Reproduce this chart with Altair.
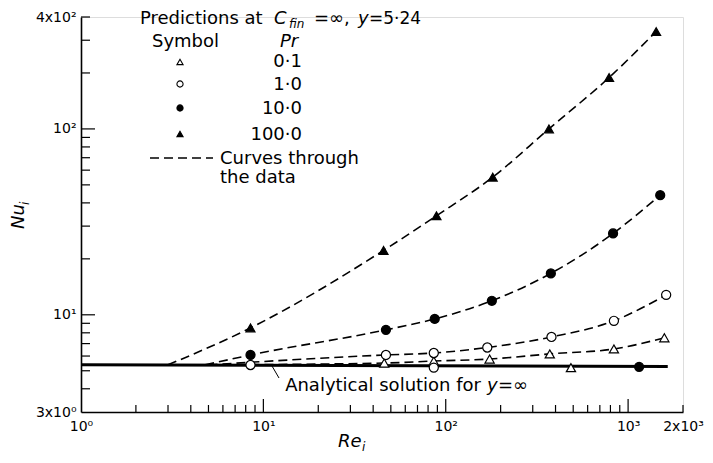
import altair as alt
import pandas as pd

# ---------------- data ----------------
series_names = ["0.1", "1.0", "10.0", "100.0"]

re_pr01 = [46, 86, 174, 372, 836, 1580]
nu_pr01 = [5.5, 5.64, 5.78, 6.16, 6.55, 7.52]

re_pr1 = [47, 86, 169, 380, 836, 1617]
nu_pr1 = [6.08, 6.23, 6.67, 7.6, 9.28, 12.8]

re_pr10 = [8.5, 47, 87, 179, 377, 827, 1500]
nu_pr10 = [6.08, 8.3, 9.5, 11.9, 16.7, 27.4, 44.0]

re_pr100 = [8.5, 45.6, 89, 181, 368, 787, 1425]
nu_pr100 = [8.5, 22.2, 34.1, 55.0, 100, 189, 334]

# where each dashed curve leaves the analytical line
curve_start_re = {"0.1": 5.0, "1.0": 5.0, "10.0": 4.8, "100.0": 3.0}

# analytical solution for y = infinity
analytic_re = [1, 1650]
analytic_nu = [5.38, 5.27]

# symbols sitting on the analytical line
online_re = [8.5, 86, 486, 1149]
online_nu = [5.37, 5.2, 5.2, 5.25]
online_series = ["1.0", "1.0", "0.1", "10.0"]

# axis ticks / labels
x_label_values = [1, 10, 100, 1000, 2000]
x_label_text = ["10⁰", "10¹", "10²", "10³", "2x10³"]
y_label_values = [3, 10, 100, 400]
y_label_text = ["3x10⁰", "10¹", "10²", "4x10²"]
x_major_ticks = [10, 100, 1000]
x_minor_ticks = [2, 3, 4, 5, 6, 7, 8, 9, 20, 30, 40, 50, 60, 70, 80, 90,
                 200, 300, 400, 500, 600, 700, 800, 900, 2000]
y_major_ticks = [10, 100]
y_minor_ticks = [4, 5, 6, 7, 8, 9, 20, 30, 40, 50, 60, 70, 80, 90, 200, 300, 400]

# ---------------- tables ----------------
pts = pd.DataFrame({
    "Re": re_pr01 + re_pr1 + re_pr10 + re_pr100,
    "Nu": nu_pr01 + nu_pr1 + nu_pr10 + nu_pr100,
    "series": ["0.1"] * len(re_pr01) + ["1.0"] * len(re_pr1)
    + ["10.0"] * len(re_pr10) + ["100.0"] * len(re_pr100),
})
online = pd.DataFrame({"Re": online_re, "Nu": online_nu, "series": online_series})

curve_rows = []
for s in series_names:
    curve_rows.append({"Re": curve_start_re[s], "Nu": analytic_nu[0], "series": s})
curves = pd.concat([pd.DataFrame(curve_rows), pts], ignore_index=True)

analytic = pd.DataFrame({"Re": analytic_re, "Nu": analytic_nu})

FONT = "DejaVu Sans"
W, H = 602, 395

x_scale = alt.Scale(type="log", domain=[1, 2000], nice=False)
y_scale = alt.Scale(type="log", domain=[3, 400], nice=False)

x_lab_expr = " : ".join(
    f"datum.value == {v} ? '{t}'" for v, t in zip(x_label_values, x_label_text)
) + " : ''"
y_lab_expr = " : ".join(
    f"datum.value == {v} ? '{t}'" for v, t in zip(y_label_values, y_label_text)
) + " : ''"

x_axis = alt.Axis(values=x_label_values, labelExpr=x_lab_expr, title="",
                  ticks=False, grid=False, domainColor="black", domainWidth=1.6,
                  labelColor="black", labelFont=FONT, labelFontSize=14,
                  labelPadding=7, labelFlush=False, labelOverlap=False)
y_axis = alt.Axis(values=y_label_values, labelExpr=y_lab_expr, title="",
                  ticks=False, grid=False, domainColor="black", domainWidth=1.6,
                  labelColor="black", labelFont=FONT, labelFontSize=14,
                  labelPadding=5, labelFlush=False, labelOverlap=False)

X = alt.X("Re:Q", scale=x_scale, axis=x_axis)
Y = alt.Y("Nu:Q", scale=y_scale, axis=y_axis)

shape_scale = alt.Scale(domain=series_names,
                        range=["triangle-up", "circle", "circle", "triangle-up"])
fill_scale = alt.Scale(domain=series_names,
                       range=["white", "white", "black", "black"])
size_scale = alt.Scale(domain=series_names, range=[85, 80, 80, 85])

# ---------------- layers ----------------
analytic_line = alt.Chart(analytic).mark_line(color="black", strokeWidth=3).encode(x=X, y=Y)

dashed = alt.Chart(curves).mark_line(
    color="black", strokeWidth=1.6, strokeDash=[9, 5], interpolate="monotone"
).encode(x=X, y=Y, detail="series:N", order="Re:Q")


def point_layer(df):
    return alt.Chart(df).mark_point(
        filled=True, stroke="black", strokeWidth=1.2, opacity=1
    ).encode(
        x=X, y=Y,
        shape=alt.Shape("series:N", scale=shape_scale, legend=None),
        fill=alt.Fill("series:N", scale=fill_scale, legend=None),
        size=alt.Size("series:N", scale=size_scale, legend=None),
    )


points = point_layer(pts)
online_pts = point_layer(online)

xt_major = alt.Chart(pd.DataFrame({"Re": x_major_ticks})).mark_rule(
    color="black", strokeWidth=1.2).encode(x=X, y=alt.value(H), y2=alt.value(H - 13))
xt_minor = alt.Chart(pd.DataFrame({"Re": x_minor_ticks})).mark_rule(
    color="black", strokeWidth=1.2).encode(x=X, y=alt.value(H), y2=alt.value(H - 7))
yt_major = alt.Chart(pd.DataFrame({"Nu": y_major_ticks})).mark_rule(
    color="black", strokeWidth=1.2).encode(y=Y, x=alt.value(0), x2=alt.value(14))
yt_minor = alt.Chart(pd.DataFrame({"Nu": y_minor_ticks})).mark_rule(
    color="black", strokeWidth=1.2).encode(y=Y, x=alt.value(0), x2=alt.value(9))


def txt(t, x, y, size=18, style="normal", align="left", angle=0):
    return alt.Chart(pd.DataFrame({"t": [t]})).mark_text(
        font=FONT, fontSize=size, fontStyle=style, align=align,
        baseline="alphabetic", color="black", angle=angle
    ).encode(x=alt.value(x), y=alt.value(y), text="t:N")


def sym(shape, fill, x, y):
    return alt.Chart(pd.DataFrame({"t": [0]})).mark_point(
        shape=shape, filled=True, fill=fill, stroke="black", strokeWidth=1.1,
        size=38, opacity=1
    ).encode(x=alt.value(x), y=alt.value(y))


legend_layers = [
    txt("Predictions at", 59, 7),
    txt("C", 193, 7, style="italic"),
    txt("fin", 208, 11, size=12, style="italic"),
    txt("=∞,", 233, 7),
    txt("y", 277, 7, style="italic"),
    txt("=5·24", 288, 7, size=17),
    txt("Symbol", 71, 30),
    txt("Pr", 208, 30, style="italic", align="center"),
    sym("triangle-up", "white", 99, 45),
    sym("circle", "white", 99, 67),
    sym("circle", "black", 99, 91),
    sym("triangle-up", "black", 99, 117),
    txt("0·1", 221, 50, align="right"),
    txt("1·0", 221, 73, align="right"),
    txt("10·0", 221, 97, align="right"),
    txt("100·0", 221, 123, align="right"),
    alt.Chart(pd.DataFrame({"t": [0]})).mark_rule(
        color="black", strokeWidth=1.5, strokeDash=[9, 5]
    ).encode(x=alt.value(69), x2=alt.value(132), y=alt.value(141)),
    txt("Curves through", 139, 147),
    txt("the data", 139, 166),
    # analytical label with leader
    alt.Chart(pd.DataFrame({"t": [0]})).mark_rule(color="black", strokeWidth=1).encode(
        x=alt.value(191), y=alt.value(349), x2=alt.value(198), y2=alt.value(361)),
    txt("Analytical solution for", 400, 374, align="right"),
    txt("y", 406, 374, style="italic"),
    txt("=∞", 417, 374),
    # axis titles
    txt("Re", 257, 430, style="italic"),
    txt("i", 281, 434, size=12, style="italic"),
    txt("Nu", -57, 212, style="italic", angle=270),
    txt("i", -52, 188, size=12, style="italic", angle=270),
]

chart = alt.layer(
    analytic_line, dashed, xt_major, xt_minor, yt_major, yt_minor,
    points, online_pts, *legend_layers
).properties(
    width=W, height=H,
    autosize=alt.AutoSizeParams(type="none"),
    padding={"left": 73, "top": 9, "right": 22, "bottom": 43},
).configure_view(stroke=None).configure(background="white")

chart.save("out.html", embed_options={"renderer": "svg", "actions": False})
